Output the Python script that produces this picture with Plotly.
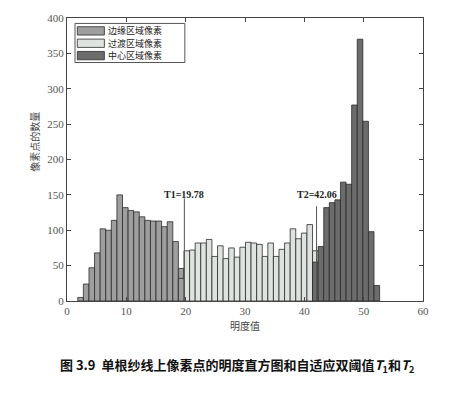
import numpy as np
import plotly.graph_objects as go

# ---- data ----
BIN_START = 2.29      # centre of first histogram bin (brightness)
BIN_WIDTH = 0.942     # histogram bin width (brightness)

# edge-region pixel counts (last value is the bin containing T1)
edge_counts = [5, 24, 47, 68, 102, 100, 114, 150, 132, 128, 126, 119, 114, 113, 113,
               105, 112, 84, 46]
# transition-region pixel counts (last value is the bin containing T2)
transition_counts = [71, 72, 82, 82, 87, 63, 78, 60, 75, 62, 76, 83, 82, 80, 63, 82,
                     63, 73, 82, 102, 88, 96, 108, 71]
# centre-region pixel counts (first value is the bin containing T2)
center_counts = [55, 77, 132, 139, 143, 168, 165, 277, 370, 254, 98, 22]
# overlap in the T1 bin
t1_overlap = [32]

T1 = 19.78
T2 = 42.06
legend_names = ["边缘区域像素", "过渡区域像素", "中心区域像素"]
x_ticks = [0, 10, 20, 30, 40, 50, 60]
y_ticks = [0, 50, 100, 150, 200, 250, 300, 350, 400]

n_total = len(edge_counts) + len(transition_counts) - 1 + len(center_counts)
centers = BIN_START + BIN_WIDTH * np.arange(n_total)
i_t1 = len(edge_counts) - 1
i_t2 = i_t1 + len(transition_counts)
edge_x = centers[: i_t1 + 1]
trans_x = centers[i_t1 + 1: i_t2 + 1]
center_x = centers[i_t2:]

EDGE_C = "#9e9e9e"
TRANS_C = "#dfe3df"
CENTER_C = "#6c6c6c"
OUT_C = "#2b2b2b"
colors = [EDGE_C, TRANS_C, CENTER_C]

serif = "Liberation Serif"
cjk = "Noto Sans CJK SC"

fig = go.Figure()
fig.add_trace(go.Bar(x=edge_x, y=edge_counts, width=BIN_WIDTH, name=legend_names[0],
                     marker=dict(color=EDGE_C, line=dict(color=OUT_C, width=0.8))))
fig.add_trace(go.Bar(x=trans_x, y=transition_counts, width=BIN_WIDTH, name=legend_names[1],
                     marker=dict(color=TRANS_C, line=dict(color=OUT_C, width=0.8))))
fig.add_trace(go.Bar(x=center_x, y=center_counts, width=BIN_WIDTH, name=legend_names[2],
                     marker=dict(color=CENTER_C, line=dict(color=OUT_C, width=0.8))))
fig.add_trace(go.Bar(x=[centers[i_t1]], y=t1_overlap, width=BIN_WIDTH, showlegend=False,
                     marker=dict(color=EDGE_C, line=dict(color=OUT_C, width=0.8))))

# threshold lines
for t, ytop in [(T1, 145), (T2, 134)]:
    fig.add_shape(type="line", x0=t, x1=t, y0=0, y1=ytop, xref="x", yref="y",
                  line=dict(color="#555555", width=1))
fig.add_annotation(x=T1, y=151, xref="x", yref="y", text="<b>T1=19.78</b>", showarrow=False,
                   font=dict(family=serif, size=10, color="#222"))
fig.add_annotation(x=T2, y=151, xref="x", yref="y", text="<b>T2=42.06</b>", showarrow=False,
                   font=dict(family=serif, size=10, color="#222"))

# compact legend box (MATLAB style, wide swatches)
fig.add_shape(type="rect", xref="paper", yref="paper", x0=0.0225, x1=0.331, y0=0.8427, y1=0.9808,
              line=dict(color="#555", width=1), fillcolor="white", layer="above")
row_c = [0.9545, 0.9108, 0.8671]
half_h = 0.0147
for yc, name, c in zip(row_c, legend_names, colors):
    fig.add_shape(type="rect", xref="paper", yref="paper", x0=0.029, x1=0.105,
                  y0=yc - half_h, y1=yc + half_h,
                  line=dict(color=OUT_C, width=0.8), fillcolor=c, layer="above")
    fig.add_annotation(x=0.112, y=yc, xref="paper", yref="paper", xanchor="left",
                       yanchor="middle", text=name, showarrow=False, borderpad=0,
                       font=dict(family=cjk, size=9, color="#222"))

# axis titles
fig.add_annotation(x=-0.09, y=225, xref="paper", yref="y", xanchor="center", yanchor="middle",
                   text="像素点的数量", textangle=-90,
                   showarrow=False, font=dict(family=cjk, size=10, color="#444"))
fig.add_annotation(x=0.5, y=0, xref="paper", yref="paper", yanchor="top", yshift=-15,
                   text="明度值", showarrow=False, font=dict(family=cjk, size=10, color="#444"))
# caption
fig.add_annotation(x=0.477, y=0, xref="paper", yref="paper", yanchor="middle", yshift=-64,
                   text="<b>图 3.9  单根纱线上像素点的明度直方图和自适应双阈值<i>T</i><sub>1</sub>和<i>T</i><sub>2</sub></b>",
                   showarrow=False, font=dict(family=cjk, size=13, color="#111"))

axis_common = dict(showgrid=False, zeroline=False, showline=True, linecolor="#444", linewidth=1,
                   mirror="ticks", ticks="inside", ticklen=4, tickcolor="#444",
                   tickfont=dict(family=serif, size=11, color="#555"))
fig.update_xaxes(range=[0, 60], tickvals=x_ticks, **axis_common)
fig.update_yaxes(range=[0, 400], tickvals=y_ticks, **axis_common)

fig.update_layout(
    width=471, height=395, barmode="overlay",
    margin=dict(l=67, r=48, t=15, b=94),
    paper_bgcolor="white", plot_bgcolor="white",
    showlegend=False,
)

fig.write_html("out.html")
